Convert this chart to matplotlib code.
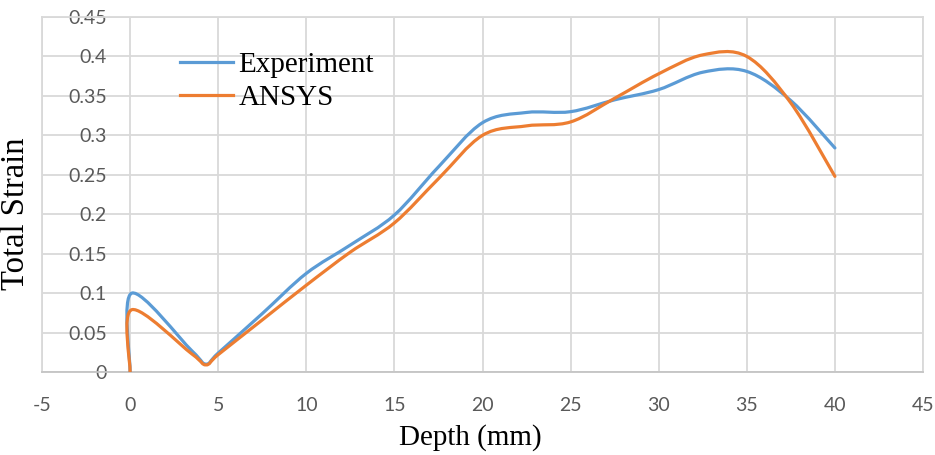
import numpy as np
import matplotlib.pyplot as plt
from matplotlib.path import Path
from matplotlib.patches import PathPatch
from matplotlib.lines import Line2D

# values
depth = [0, 0.1, 3.5, 4.3, 5, 7.5, 10, 12.5, 15, 17.5, 20,
         22.5, 25, 27.5, 30, 32.5, 35, 37.5, 40]
experiment = [0, 0.100, 0.027, 0.010, 0.024, 0.074, 0.125, 0.161, 0.199,
              0.260, 0.316, 0.329, 0.330, 0.345, 0.358, 0.380, 0.381, 0.344, 0.284]
ansys = [0, 0.079, 0.023, 0.009, 0.022, 0.066, 0.110, 0.152, 0.189,
         0.245, 0.300, 0.312, 0.317, 0.347, 0.378, 0.402, 0.400, 0.341, 0.248]

x_ticks = [-5, 0, 5, 10, 15, 20, 25, 30, 35, 40, 45]
y_ticks = [0, 0.05, 0.1, 0.15, 0.2, 0.25, 0.3, 0.35, 0.4, 0.45]
y_labels = ['0', '0.05', '0.1', '0.15', '0.2', '0.25', '0.3', '0.35', '0.4', '0.45']

blue = '#5B9BD5'
orange = '#ED7D31'


def smooth_path(x, y):
    # excel-like smoothed line: one cubic bezier between each pair of points
    p = np.column_stack([x, y])
    ext = np.vstack([p[0], p, p[-1]])
    verts = [p[0]]
    codes = [Path.MOVETO]
    for i in range(len(p) - 1):
        c1 = p[i] + (ext[i + 2] - ext[i]) / 6
        c2 = p[i + 1] - (ext[i + 3] - ext[i + 1]) / 6
        verts += [c1, c2, p[i + 1]]
        codes += [Path.CURVE4] * 3
    return Path(verts, codes)


fig = plt.figure(figsize=(9.35, 4.55), dpi=100)
ax = fig.add_axes([42 / 935, 1 - 372 / 455, 881 / 935, 355 / 455])

for vals, col in [(experiment, blue), (ansys, orange)]:
    ax.add_patch(PathPatch(smooth_path(depth, vals), fill=False, edgecolor=col,
                           lw=2.3, capstyle='round', joinstyle='round',
                           transform=ax.transData, zorder=3))

ax.set_xlim(-5, 45)
ax.set_ylim(0, 0.45)
ax.set_xticks(x_ticks)
ax.set_xticklabels([str(t) for t in x_ticks])
ax.set_yticks(y_ticks)
ax.set_yticklabels(y_labels)
ax.grid(True, color='#D9D9D9', lw=1.3)
ax.set_axisbelow(True)
for side in ['left', 'right', 'top']:
    ax.spines[side].set_color('#D9D9D9')
    ax.spines[side].set_linewidth(1.3)
ax.spines['bottom'].set_color('#C4C4C4')
ax.spines['bottom'].set_linewidth(1.3)

ax.tick_params(length=0, labelcolor='#595959', labelsize=14)
ax.tick_params(axis='x', pad=18)
ax.tick_params(axis='y', pad=-46.8)
for lab in ax.get_xticklabels() + ax.get_yticklabels():
    lab.set_family('Lato')
for lab in ax.get_yticklabels():
    lab.set_zorder(4)

fig.text(470 / 935, 1 - 438 / 455, 'Depth (mm)', family='Liberation Serif',
         fontsize=21, ha='center', va='center')
fig.text(16 / 935, 1 - 214 / 455, 'Total Strain', family='Liberation Serif',
         fontsize=23.5, ha='center', va='center', rotation=90)

handles = [Line2D([], [], color=blue, lw=2.3), Line2D([], [], color=orange, lw=2.3)]
ax.legend(handles, ['Experiment', 'ANSYS'], loc='upper left',
          bbox_to_anchor=((180 - 42) / 881, (372 - 52) / 355), frameon=False,
          prop={'family': 'Liberation Serif', 'size': 21}, borderpad=0,
          borderaxespad=0, handlelength=1.8, handletextpad=0.2, labelspacing=0.22)

fig.savefig('out.png', dpi=100)
